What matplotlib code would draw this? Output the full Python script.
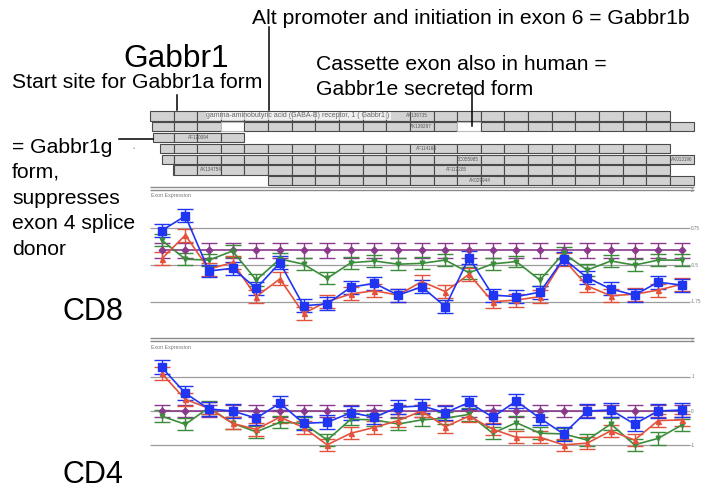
import numpy as np
import matplotlib
matplotlib.use("Agg")
import matplotlib.pyplot as plt

plt.rcParams["font.family"] = ["Liberation Sans", "DejaVu Sans"]

W, H = 712, 491

exons = np.arange(1, 24)

# CD8 exon expression per exon (four sample groups)
cd8_blue = [0.67, 1.17, -0.70, -0.61, -1.29, -0.42, -1.88, -1.82, -1.25, -1.12, -1.52, -1.24,
            -1.91, -0.25, -1.52, -1.57, -1.42, -0.28, -0.93, -1.31, -1.52, -1.08, -1.18]
cd8_red = [-0.29, 0.52, -0.64, -0.41, -1.57, -0.97, -2.14, -1.74, -1.48, -1.37, -1.52, -1.06,
           -1.40, -0.81, -1.74, -1.69, -1.57, -0.30, -1.21, -1.54, -1.49, -1.35, -1.15]
cd8_green = [0.35, -0.30, -0.33, -0.02, -1.01, -0.29, -0.47, -0.95, -0.42, -0.36, -0.47, -0.44,
             -0.33, -0.76, -0.46, -0.38, -1.01, -0.10, -0.67, -0.36, -0.50, -0.33, -0.33]
cd8_purple = [0.0, 0.0, 0.0, 0.0, 0.0, 0.0, 0.0, 0.0, 0.0, 0.0, 0.0, 0.0,
              0.0, 0.0, 0.0, 0.0, 0.0, 0.0, 0.0, 0.0, 0.0, 0.0, 0.0]
cd8_err = {"blue": 0.22, "red": 0.22, "green": 0.2, "purple": 0.26}
cd8_ticks = [0.75, -0.5, -1.75]
cd8_tick_labels = ["0.75", "-0.5", "-1.75"]

# CD4 exon expression per exon
cd4_blue = [1.28, 0.52, 0.06, 0.0, -0.21, 0.23, -0.36, -0.33, -0.05, -0.18, 0.11, 0.15,
            -0.05, 0.25, -0.18, 0.29, -0.21, -0.67, 0.0, 0.03, -0.38, 0.0, 0.03]
cd4_red = [1.10, 0.34, 0.08, -0.36, -0.54, -0.18, -0.48, -0.99, -0.65, -0.48, -0.28, 0.0,
           -0.46, -0.15, -0.53, -0.77, -0.77, -0.99, -0.94, -0.58, -0.85, -0.28, -0.26]
cd4_green = [-0.15, -0.39, 0.10, -0.36, -0.61, -0.33, -0.36, -0.85, -0.24, -0.26, -0.38, -0.26,
             -0.21, -0.10, -0.65, -0.34, -0.65, -0.67, -0.85, -0.38, -0.99, -0.80, -0.41]
cd4_purple = [0.0, 0.0, 0.0, 0.0, 0.0, 0.0, 0.0, 0.0, 0.0, 0.0, 0.0, 0.0,
              0.0, 0.0, 0.0, 0.0, 0.0, 0.0, 0.0, 0.0, 0.0, 0.0, 0.0]
cd4_err = {"blue": 0.2, "red": 0.18, "green": 0.18, "purple": 0.18}
cd4_ticks = [1, 0, -1]
cd4_tick_labels = ["1", "0", "-1"]

# transcript models: first/last exon coordinate, skipped exons, accession labels
track_start = [0.5, 0.58, 0.63, 0.93, 1.0, 1.49, 5.5]
track_end = [22.5, 23.5, 4.5, 22.5, 23.5, 22.5, 23.5]
track_skipped = [[], [4, 14], [], [], [], [], []]
track_labels = [[("AK136735", 11.8)], [("AK139297", 11.97)], [("AF120094", 2.58)],
                [("AF114168", 12.2)], [("BC055985", 13.96), ("AK013196", 23.0)],
                [("AK134754", 3.09), ("AF112205", 13.45)], [("AK029944", 14.46)]]
gene_title = "gamma-aminobutyric acid (GABA-B) receptor, 1 ( Gabbr1 )"

COLORS = {"blue": "#1f35f2", "red": "#e4523c", "green": "#3b8c3b", "purple": "#8a3a8c"}
MARKERS = {"blue": ("s", 5.5), "red": ("^", 3.6), "green": ("v", 3.4), "purple": ("D", 3.4)}

# exon n sits at pixel 161.7 + (n - 1) * 23.64
XLIM = (1 + (140 - 161.7) / 23.64, 1 + (712 - 161.7) / 23.64)

fig = plt.figure(figsize=(W / 100, H / 100), dpi=100)


def px_axes(x0, y0, x1, y1, **kw):
    return fig.add_axes([x0 / W, 1 - y1 / H, (x1 - x0) / W, (y1 - y0) / H], **kw)


# gene model
gax = px_axes(140, 100, 712, 192)
gax.set_xlim(XLIM)
gax.set_ylim(8.037, -0.481)
gax.axis("off")
for row in range(7):
    s, e = track_start[row], track_end[row]
    edges = [s] + [k + 0.5 for k in range(24) if s < k + 0.5 < e] + [e]
    for a, b in zip(edges[:-1], edges[1:]):
        skipped = round((a + b) / 2) in track_skipped[row]
        gax.add_patch(plt.Rectangle((a, row + 1 - 0.42), b - a, 0.84,
                                    facecolor="white" if skipped else "#d2d2d2",
                                    edgecolor="#bbbbbb" if skipped else "#4a4a4a", lw=0.8))
    for lab, xpos in track_labels[row]:
        gax.text(xpos, row + 1, lab, fontsize=3.3, color="#555555", ha="center", va="center")
gax.text(6.77, 1, gene_title, fontsize=5, color="#666666", ha="center", va="center",
         bbox=dict(facecolor="white", edgecolor="none", alpha=0.65, pad=0.6))
gax.text(-0.2, 4, "\u2022", fontsize=4, color="#888888", ha="center", va="center")


def expression_panel(ax, data, err, ticks, tick_labels, ylim, top_lines, title_y):
    ax.set_xlim(XLIM)
    ax.set_ylim(ylim)
    ax.axis("off")
    ax.hlines(top_lines, 0.5, 23.5, color="#8c8c8c", lw=1.0)
    ax.hlines(ticks, 0.5, 23.35, color="#9c9c9c", lw=0.9)
    for t, lab in zip(ticks, tick_labels):
        ax.text(23.4, t, lab, fontsize=3.3, color="#777777", va="center")
    ax.text(23.4, top_lines[1], "2", fontsize=3.3, color="#777777", va="center")
    ax.text(0.55, title_y, "Exon Expression", fontsize=3.8, color="#777777", va="center")
    for name in ["purple", "green", "red", "blue"]:
        marker, ms = MARKERS[name]
        ax.errorbar(exons, data[name], yerr=err[name], color=COLORS[name], marker=marker,
                    ms=ms, lw=1.2, elinewidth=1.0, capsize=5.5, capthick=1.0)


ax8 = px_axes(140, 183, 712, 325)
expression_panel(ax8, {"blue": cd8_blue, "red": cd8_red, "green": cd8_green, "purple": cd8_purple},
                 cd8_err, cd8_ticks, cd8_tick_labels, (-2.535, 2.289), [2.153, 2.051], 1.88)

ax4 = px_axes(140, 330, 712, 491)
expression_panel(ax4, {"blue": cd4_blue, "red": cd4_red, "green": cd4_green, "purple": cd4_purple},
                 cd4_err, cd4_ticks, cd4_tick_labels, (-2.34, 2.37), [2.13, 2.05], 1.87)

# annotation layer in pixel units
cv = fig.add_axes([0, 0, 1, 1], zorder=5)
cv.set_xlim(0, W)
cv.set_ylim(H, 0)
cv.axis("off")
cv.patch.set_alpha(0)

fs = 15.2
cv.text(123, 67, "Gabbr1", fontsize=22.8, va="baseline")
cv.text(12, 88, "Start site for Gabbr1a form", fontsize=fs, va="baseline")
cv.text(252, 24, "Alt promoter and initiation in exon 6 = Gabbr1b", fontsize=fs, va="baseline")
cv.text(316, 70, "Cassette exon also in human =", fontsize=fs, va="baseline")
cv.text(316, 95, "Gabbr1e secreted form", fontsize=fs, va="baseline")
for yb, line in zip([153, 178, 204, 229, 255],
                    ["= Gabbr1g", "form,", "suppresses", "exon 4 splice", "donor"]):
    cv.text(12, yb, line, fontsize=fs, va="baseline")
cv.text(62, 320, "CD8", fontsize=22, va="baseline")
cv.text(62, 483, "CD4", fontsize=22, va="baseline")

cv.plot([176.7, 176.7], [95, 110], color="black", lw=1.1)
cv.plot([269.3, 269.3], [27, 110], color="black", lw=1.1)
cv.plot([471.7, 471.7], [87, 126], color="black", lw=1.1)
cv.plot([119, 153], [139.3, 139.3], color="black", lw=1.1)

fig.savefig("out.png", dpi=100)
